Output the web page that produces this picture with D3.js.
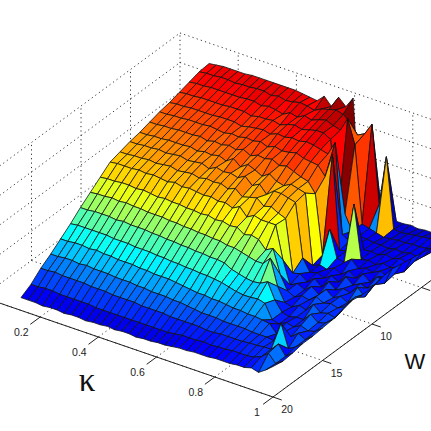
<!DOCTYPE html>
<html>
<head>
<meta charset="utf-8">
<script src="https://cdnjs.cloudflare.com/ajax/libs/d3/7.8.5/d3.min.js"></script>
<style>
    html,body{margin:0;padding:0;background:#fff;}
    text{font-family:"Liberation Sans",Arial,sans-serif;}
</style>
</head>
<body>
<div id="chart"></div>
<script>
    var kappa = d3.range(36).map(function (i) { return 0.134 + i * 0.02474; });
    var widths = d3.range(1, 21);
    var kappaTicks = [0.2, 0.4, 0.6, 0.8, 1];
    var kappaLabels = ["0.2", "0.4", "0.6", "0.8", "1"];
    var wTicks = [5, 10, 15, 20];
    var zTicks = [0, 30, 60, 90, 120];

    // one row per W, one column per kappa
    var row1 = [110,111,112,112,112,112,113,113,113,113,113,113,113,112,111,110,117,109,121,114,125,16,15,15,15,16,15,15,16,15,16,16,17,18,19,20];
    var row2 = [109,110,110,111,111,110,111,111,112,112,110,112,110,111,113,112,110,114,116,118,116,110,100,104,116,37,88,17,16,17,18,19,20,21,22,25];
    var row3 = [106,107,107,108,108,108,108,108,109,109,107,109,108,106,110,108,112,110,113,115,112,110,124,100,22,20,18,16,17,18,18,19,19,20,20,29];
    var row4 = [103,104,104,105,105,105,105,106,106,106,104,106,106,107,105,108,110,108,110,112,112,108,30,37,22,20,19,18,18,17,19,18,20,19,22,33];
    var row5 = [100,101,101,102,102,102,102,103,103,103,101,103,104,105,103,106,105,107,106,108,107,105,103,117,26,22,20,18,19,18,21,19,22,20,24,35];
    var row6 = [98,98,99,99,100,100,100,101,100,99,101,100,102,101,103,100,103,101,102,104,101,100,99,90,115,20,22,72,18,20,18,22,20,23,21,37];
    var row7 = [95,95,96,96,97,97,97,98,96,98,97,99,97,100,96,99,98,100,96,98,95,92,90,80,20,49,22,20,26,19,22,20,24,21,26,39];
    var row8 = [92,92,93,93,94,94,94,95,93,95,94,96,93,98,92,97,94,90,95,90,88,92,90,88,17,20,18,22,18,24,19,26,20,28,24,41];
    var row9 = [90,90,91,91,92,91,92,93,91,92,93,90,94,92,93,91,95,88,92,84,90,90,88,86,32,20,22,19,24,20,28,22,26,24,30,40];
    var row10 = [87,87,88,88,89,88,89,90,88,89,90,88,90,89,90,87,90,84,86,88,82,84,80,77,24,26,20,26,20,28,22,26,24,32,25,37];
    var row11 = [84,85,85,85,86,85,86,85,84,86,84,85,84,83,84,82,83,80,84,76,80,78,78,78,45,22,26,22,28,22,30,24,28,24,32,37];
    var row12 = [76,77,77,78,78,77,78,77,76,77,76,76,75,75,74,75,73,74,72,73,68,70,68,60,64,40,26,22,26,24,30,26,28,26,30,39];
    var row13 = [68,69,69,70,69,70,69,69,68,68,68,67,67,66,66,65,65,64,64,62,62,60,58,56,56,64,38,24,22,26,24,32,26,28,26,36];
    var row14 = [60,60,61,61,61,60,61,60,60,60,59,59,58,58,57,57,56,56,55,55,54,50,48,46,45,46,50,34,24,22,24,24,32,26,28,34];
    var row15 = [51,52,52,52,52,52,51,51,51,50,50,50,49,49,48,48,47,47,46,46,45,44,42,40,39,39,40,38,24,22,26,24,28,25,27,33];
    var row16 = [43,43,44,44,43,44,43,43,42,42,42,41,41,40,40,40,39,38,37,36,36,35,35,34,33,33,32,32,31,30,22,26,24,30,26,32];
    var row17 = [35,35,36,36,35,36,35,35,35,34,34,34,33,33,32,32,32,31,31,30,29,28,28,28,27,27,27,27,26,26,26,25,45,22,26,32];
    var row18 = [28,28,29,28,28,28,28,27,27,27,26,26,26,26,25,25,25,25,24,24,24,24,24,23,23,24,24,24,24,25,25,26,26,34,24,30];
    var row19 = [19,19,20,20,19,19,19,19,19,18,18,18,18,18,18,18,18,18,18,18,19,20,20,20,21,20,21,21,22,22,22,23,26,32,24,29];
    var row20 = [13,13,13,12,13,13,12,13,13,12,13,13,14,13,14,14,13,14,14,15,15,16,17,17,18,18,18,19,19,19,20,20,22,20,25,31];
    var zRows = [row1,row2,row3,row4,row5,row6,row7,row8,row9,row10,row11,row12,row13,row14,row15,row16,row17,row18,row19,row20];

    var dx = 431, dy = 431;
    var svg = d3.select('#chart').append('svg')
        .attr('width', dx)
        .attr('height', dy)
        .style('display', 'block');

    // projection of the box: kappa and W both shift x and y, z only lifts y
    var kx = d3.scaleLinear().domain([0, 1]).range([-18, 273]);
    var ky = d3.scaleLinear().domain([0, 1]).range([297, 397]);
    var wx = d3.scaleLinear().domain([20, 0]).range([0, 198]);
    var wy = d3.scaleLinear().domain([20, 0]).range([0, -146]);
    var zs = d3.scaleLinear().domain([0, 120]).range([0, -118]);

    function px(k, w) { return kx(k) + wx(w); }
    function py(k, w, z) { return ky(k) + wy(w) + zs(z); }

    // jet colormap
    var jet = d3.scaleLinear()
        .domain([0, 0.125, 0.375, 0.625, 0.875, 1].map(function (c) { return 6 + c * 119; }))
        .range(['#000090', '#0000ff', '#00ffff', '#ffff00', '#ff0000', '#800000'])
        .clamp(true);

    var line = d3.line().x(function (d) { return d[0]; }).y(function (d) { return d[1]; });

    function seg(a, b, dotted) {
        svg.append('path')
            .attr('d', line([[px(a[0], a[1]), py(a[0], a[1], a[2])], [px(b[0], b[1]), py(b[0], b[1], b[2])]]))
            .attr('fill', 'none')
            .attr('stroke', dotted ? '#333' : '#222')
            .attr('stroke-width', 1)
            .attr('stroke-dasharray', dotted ? '1.2,3.2' : null);
    }

    // grid on the two back walls and the floor
    zTicks.forEach(function (z) {
        seg([0, 20, z], [0, 0, z], true);
        seg([0, 0, z], [1, 0, z], true);
    });
    wTicks.forEach(function (w) {
        seg([0, w, 0], [0, w, 120], true);
        seg([0, w, 0], [1, w, 0], true);
    });
    kappaTicks.forEach(function (k) {
        seg([k, 0, 0], [k, 0, 120], true);
        seg([k, 20, 0], [k, 0, 0], true);
    });
    seg([0, 0, 0], [0, 0, 120], true);

    // surface, back to front, coloured by the first vertex of each cell
    for (var j = 0; j < widths.length - 1; j++) {
        for (var i = 0; i < kappa.length - 1; i++) {
            var cell = [
                [i, j], [i + 1, j], [i + 1, j + 1], [i, j + 1]
            ].map(function (c) {
                return [px(kappa[c[0]], widths[c[1]]), py(kappa[c[0]], widths[c[1]], zRows[c[1]][c[0]])];
            });
            svg.append('path')
                .attr('d', line(cell) + 'Z')
                .attr('fill', jet(zRows[j][i]))
                .attr('stroke', '#111')
                .attr('stroke-width', 0.8)
                .attr('stroke-linejoin', 'round');
        }
    }

    // front axes
    seg([0, 20, 0], [1, 20, 0], false);
    seg([1, 20, 0], [1, 0, 0], false);
    kappaTicks.forEach(function (k, n) {
        seg([k, 20, 0], [k, 21, 0], false);
        svg.append('text')
            .attr('x', px(k, 20) - (k == 1 ? 16 : 19))
            .attr('y', py(k, 20, 0) + 19)
            .attr('font-size', 10.5)
            .attr('text-anchor', 'middle')
            .attr('fill', '#222')
            .text(kappaLabels[n]);
    });
    wTicks.forEach(function (w) {
        seg([1, w, 0], [1.03, w, 0], false);
        svg.append('text')
            .attr('x', px(1, w) + 14)
            .attr('y', py(1, w, 0) + 16)
            .attr('font-size', 10.5)
            .attr('text-anchor', 'middle')
            .attr('fill', '#222')
            .text(w);
    });

    svg.append('text')
        .attr('x', 87)
        .attr('y', 391)
        .attr('font-size', 33)
        .attr('text-anchor', 'middle')
        .style('font-family', '"Liberation Serif",serif')
        .attr('fill', '#111')
        .text('κ');
    svg.append('text')
        .attr('x', 415)
        .attr('y', 369)
        .attr('font-size', 22)
        .attr('text-anchor', 'middle')
        .attr('fill', '#111')
        .text('W');
</script>
</body>
</html>
